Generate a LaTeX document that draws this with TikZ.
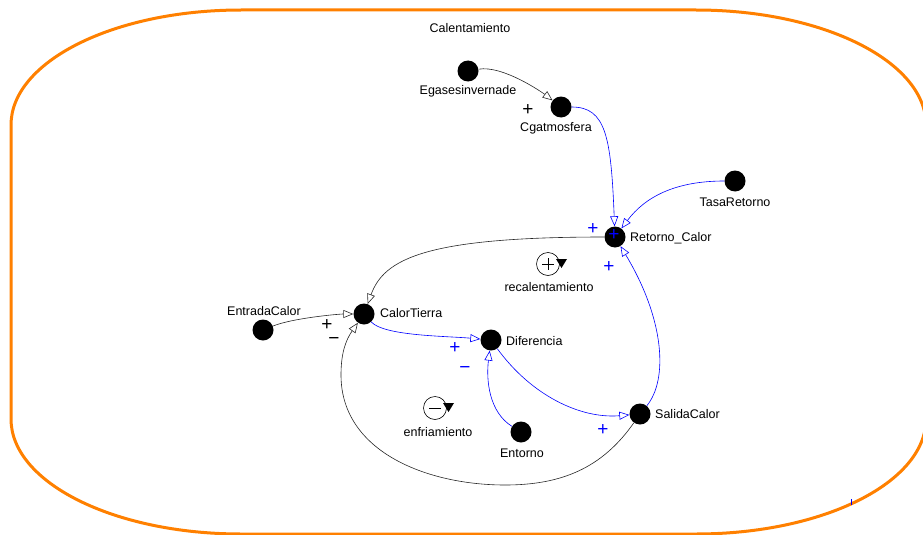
\documentclass[tikz,border=0pt]{standalone}
\usepackage{fontspec}
\setmainfont{Liberation Sans}
\usetikzlibrary{arrows.meta}
\definecolor{naranja}{RGB}{255,128,0}
\definecolor{azul}{RGB}{0,0,255}

\begin{document}
\begin{tikzpicture}[x=1pt,y=-1pt,
  var/.style={circle,fill=black,minimum size=21pt,inner sep=0pt},
  lbl/.style={font=\fontsize{12.5}{14}\selectfont,inner sep=0pt},
  signo/.style={font=\fontsize{19}{19}\selectfont,inner sep=0pt},
  flechanegra/.style={line width=0.6pt,black!85,-{Triangle[open,length=10pt,width=8pt]}},
  flechaazul/.style={line width=0.6pt,azul,-{Triangle[open,length=10pt,width=8pt]}}]
  \useasboundingbox (0,0) rectangle (923,535);

  % marco
  \draw[naranja,line width=3pt] (11,125) .. controls (11,61.5) and (114,10) .. (241,10)
    -- (696,10) .. controls (823,10) and (926,61.5) .. (926,125) -- (926,419)
    .. controls (926,482.5) and (823,534) .. (696,534) -- (241,534)
    .. controls (114,534) and (11,482.5) .. (11,419) -- cycle;
  \draw[azul,line width=1pt] (851,499) -- (851,505);
  \node[lbl] (titulo) at (470,28) {Calentamiento};

  % variables
  \node[var] (eg) at (468,71) {};
  \node[var] (cg) at (561,107) {};
  \node[var] (tr) at (735,181) {};
  \node[var] (rc) at (615,237) {};
  \node[var] (ec) at (263,330) {};
  \node[var] (ct) at (364,314) {};
  \node[var] (df) at (491,340) {};
  \node[var] (en) at (521,432) {};
  \node[var] (sc) at (640,414) {};

  \node[lbl] (eglbl) at (468,91) {Egasesinvernade};
  \node[lbl] (cglbl) at (556,128) {Cgatmosfera};
  \node[lbl] (trlbl) at (735,202) {TasaRetorno};
  \node[lbl,anchor=west] (rclbl) at (630,238) {Retorno\_Calor};
  \node[lbl] (eclbl) at (264,311) {EntradaCalor};
  \node[lbl,anchor=west] (ctlbl) at (380,313) {CalorTierra};
  \node[lbl,anchor=west] (dflbl) at (506,341) {Diferencia};
  \node[lbl] (enlbl) at (522,453) {Entorno};
  \node[lbl,anchor=west] (sclbl) at (655,414) {SalidaCalor};

  % enlaces
  \draw[flechanegra] (eg) .. controls +(35,-6) and +(-18,-14) .. (cg);
  \draw[flechaazul] (cg) .. controls +(45,0) and +(-4,-100) .. (rc);
  \draw[flechaazul] (tr) .. controls +(-60,0) and +(30,-40) .. (rc);
  \draw[flechanegra] (rc) .. controls +(-190,0) and +(20,-55) .. (ct);
  \draw[flechanegra] (ec) .. controls +(30,-12) and +(-25,0) .. (ct);
  \draw[flechanegra] (sc) to[out=235,in=0] (505,485) to[out=180,in=-90] (341,375)
    to[out=90,in=235] (ct);
  \draw[flechaazul] (ct) .. controls +(20,22) and +(-45,-4) .. (df);
  \draw[flechaazul] (en) .. controls +(-32,-20) and +(-5,40) .. (df);
  \draw[flechaazul] (df) .. controls +(40,55) and +(-60,5) .. (sc);
  \draw[flechaazul] (sc) .. controls +(28,-34) and +(50,83) .. (rc);

  % signos
  \node[signo] (s1) at (528,110) {+};
  \node[signo,azul] (s2) at (593,229) {+};
  \node[signo,azul] (s3) at (614,235) {+};
  \node[signo,azul] (s4) at (609,267) {+};
  \node[signo] (s5) at (327,325) {+};
  \node[signo] (s6) at (334,341) {−};
  \node[signo,azul] (s7) at (455,348) {+};
  \node[signo,azul] (s8) at (465,370) {−};
  \node[signo,azul] (s9) at (603,430) {+};

  % bucles
  \draw[line width=0.6pt] (548,264) circle (11.5);
  \draw[line width=0.8pt] (542,264) -- (554,264) (548,258) -- (548,270);
  \fill (556,259) -- (567,259) -- (561.5,268) -- cycle;
  \node[lbl] (b1lbl) at (549,287) {recalentamiento};
  \draw[line width=0.6pt] (435,408) circle (11.5);
  \draw[line width=0.8pt] (429,408) -- (441,408);
  \fill (443,403) -- (454,403) -- (448.5,412) -- cycle;
  \node[lbl] (b2lbl) at (438,432) {enfriamiento};
\end{tikzpicture}
\end{document}
